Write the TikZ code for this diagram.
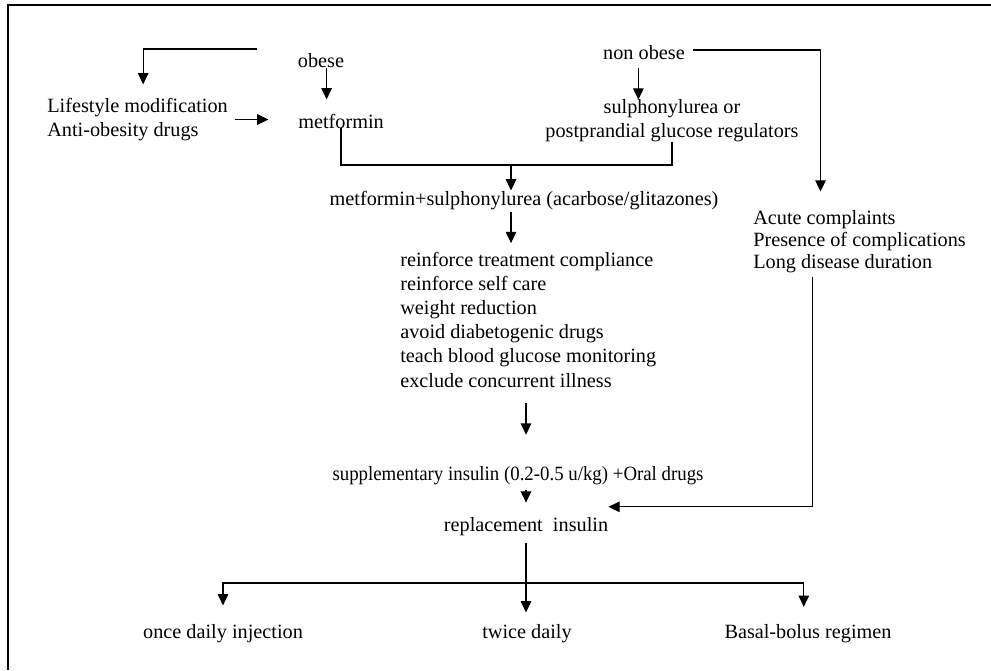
\documentclass[tikz,border=0pt]{standalone}
\usepackage{fontspec}
\setmainfont{Liberation Serif}
\usetikzlibrary{arrows.meta}

\begin{document}
\begin{tikzpicture}[x=0.025cm,y=-0.025cm,
			txt/.style={inner sep=0pt,font=\fontsize{14.4}{17.2}\selectfont},
			ln/.style={line width=0.75pt},
			arr/.style={ln,-{Triangle[length=8pt,width=7.5pt]}}]
			\useasboundingbox (0,0) rectangle (991,670);
			\draw[line width=1.4pt] (991,5) to (8,5) to (8,670);
			\node[txt,anchor=base] (obese) at (321,68) {obese};
			\node[txt,anchor=base] (nonob) at (644,60) {non obese};
			\node[txt,anchor=base west,align=left,font=\fontsize{14.4}{16.4}\selectfont] (life) at (47,136) {Lifestyle modification\\Anti-obesity drugs};
			\node[txt,anchor=base west] (metf) at (298,128) {metformin};
			\node[txt,anchor=base,align=center,font=\fontsize{14.4}{16.4}\selectfont] (sulf) at (672,137) {sulphonylurea or\\postprandial glucose regulators};
			\node[txt,anchor=base] (combo) at (524,205) {metformin+sulphonylurea (acarbose/glitazones)};
			\node[txt,anchor=base west,align=left] (list) at (400,387) {reinforce treatment compliance\\reinforce self care\\weight reduction\\avoid diabetogenic drugs\\teach blood glucose monitoring\\exclude concurrent illness};
			\node[txt,anchor=base west,align=left,font=\fontsize{14.4}{15.6}\selectfont] (acute) at (753,268) {Acute complaints\\Presence of complications\\Long disease duration};
			\node[txt,anchor=base] (supp) at (518,480) {\scalebox{0.93}[1]{supplementary insulin (0.2-0.5 u/kg) +Oral drugs}};
			\node[txt,anchor=base] (repl) at (526,531) {replacement\ \ insulin};
			\node[txt,anchor=base] (once) at (223,638) {once daily injection};
			\node[txt,anchor=base] (twice) at (527,638) {twice daily};
			\node[txt,anchor=base] (basal) at (808,638) {Basal-bolus regimen};
			\coordinate (obL) at (257,49);
			\coordinate (nbR) at (693,50);
			\coordinate (jA) at (511,165);
			\coordinate (jB) at (repl.south |- 0,583);
			\draw[arr,shorten >=10pt] (obL) -| ([xshift=4pt]life.north);
			\draw[arr,shorten <=5pt,shorten >=21pt] (life.east) to (life.east -| metf.west);
			\draw[arr,shorten >=10pt] ([xshift=4pt]obese.south) to ([xshift=4pt]obese.south |- metf.north);
			\draw[arr,shorten <=5pt] ([xshift=-4pt]nonob.south) to ([xshift=-4pt]nonob.south |- sulf.north);
			\draw[arr,shorten >=13pt] (nbR) -| ([xshift=48pt]acute.north west);
			\draw[ln] (metf.south) |- (jA) -| (sulf.south);
			\draw[arr] (jA) to (jA |- combo.north);
			\draw[arr,shorten <=2pt,shorten >=6pt] (jA |- combo.south) to (jA |- list.north);
			\draw[arr,shorten <=11pt,shorten >=22pt] (repl.north |- list.south) to (repl.north |- supp.north);
			\draw[arr,shorten <=4pt,shorten >=10pt] (repl.north |- supp.south) to (repl.north);
			\draw[arr,shorten <=3pt] ([xshift=42pt]acute.south west) |- ([yshift=7pt]repl.north east);
			\draw[arr,shorten <=5pt,shorten >=8pt] (repl.south) to (repl.south |- twice.north);
			\draw[arr,shorten >=13pt] (jB) -| (once.north);
			\draw[arr,shorten >=12pt] (jB) -| ([xshift=-3pt]basal.north);
		\end{tikzpicture}
\end{document}
